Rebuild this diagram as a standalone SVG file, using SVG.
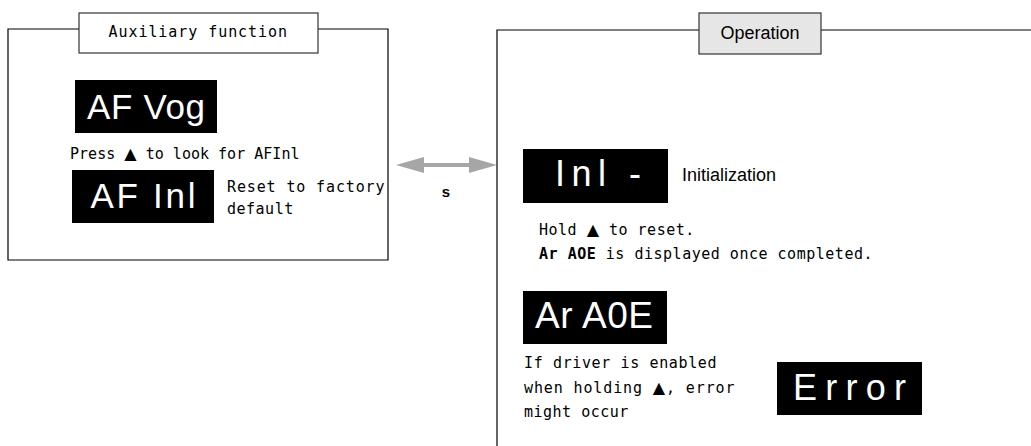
<svg xmlns="http://www.w3.org/2000/svg" width="1031" height="446" viewBox="0 0 1031 446">
<style>
.frame{fill:none;stroke:#000;stroke-width:1.2}
.tbox{fill:#fff;stroke:#333;stroke-width:1.2}
.tbox2{fill:#e6e6e6;stroke:#333;stroke-width:1.2}
.disp{fill:#000}
.dt{fill:#fff;font-family:"Liberation Sans",Arial,sans-serif}
.mono{font-family:"DejaVu Sans Mono","Liberation Mono",monospace;font-size:15px;fill:#000;letter-spacing:0.5px}
.tri{font-family:"DejaVu Sans",sans-serif;font-size:16px}
.sans{font-family:"Liberation Sans",Arial,sans-serif;font-size:18px;fill:#000}
</style>
<rect width="1031" height="446" fill="#fff"/>
<g id="aux-panel">
  <polyline class="frame" points="79,29 8,29 8,260 388,260 388,29 318,29"/>
  <rect class="tbox" x="79" y="13" width="239" height="40"/>
  <text class="mono" x="198" y="37" text-anchor="middle" font-size="15.5" textLength="179" lengthAdjust="spacing">Auxiliary function</text>
</g>
<g id="af-vog">
  <rect class="disp" x="75" y="80" width="142" height="53"/>
  <text class="dt" x="146" y="119" font-size="35" text-anchor="middle" textLength="118" lengthAdjust="spacing">AF Vog</text>
</g>
<text class="mono" x="70" y="159" textLength="230" lengthAdjust="spacing">Press <tspan class="tri">▲</tspan> to look for AFInl</text>
<g id="af-inl">
  <rect class="disp" x="72" y="170" width="142" height="53"/>
  <text class="dt" x="143" y="208" font-size="35" text-anchor="middle" textLength="105" lengthAdjust="spacing">AF Inl</text>
  <text class="mono" x="227" y="192" textLength="158" lengthAdjust="spacing">Reset to factory</text>
  <text class="mono" x="227" y="214">default</text>
</g>
<g id="connectors">
  <line x1="420" y1="165" x2="473" y2="165" stroke="#a6a6a6" stroke-width="4"/>
  <polygon points="396,165 424,157 424,173" fill="#a6a6a6"/>
  <polygon points="497,165 469,157 469,173" fill="#a6a6a6"/>
  <text x="446" y="197" font-family="Liberation Sans,Arial,sans-serif" font-weight="bold" font-size="15" text-anchor="middle">s</text>
</g>
<g id="op-panel">
  <polyline class="frame" points="699,30 497,30 497,446"/>
  <line class="frame" x1="821" y1="30" x2="1031" y2="30"/>
  <rect class="tbox2" x="699" y="13" width="122" height="41"/>
  <text class="sans" x="760" y="39" text-anchor="middle">Operation</text>
</g>
<g id="inl">
  <rect class="disp" x="523" y="149" width="145" height="54"/>
  <text class="dt" x="555" y="186" font-size="36" textLength="86" lengthAdjust="spacing">Inl -</text>
  <text class="sans" x="682" y="181">Initialization</text>
</g>
<text class="mono" x="539" y="235">Hold <tspan class="tri">▲</tspan> to reset.</text>
<text class="mono" x="539" y="259" textLength="334" lengthAdjust="spacing"><tspan font-weight="bold">Ar AOE</tspan> is displayed once completed.</text>
<g id="ar-aoe">
  <rect class="disp" x="523" y="291" width="144" height="53"/>
  <text class="dt" x="594" y="328" font-size="37" text-anchor="middle" textLength="118" lengthAdjust="spacing">Ar A0E</text>
</g>
<text class="mono" x="524" y="368" textLength="193" lengthAdjust="spacing">If driver is enabled</text>
<text class="mono" x="524" y="393" textLength="211" lengthAdjust="spacing">when holding <tspan class="tri">▲</tspan>, error</text>
<text class="mono" x="524" y="417">might occur</text>
<g id="error">
  <rect class="disp" x="777" y="362" width="145" height="53"/>
  <text class="dt" x="793" y="400" font-size="36" textLength="113" lengthAdjust="spacing">Error</text>
</g>
</svg>
